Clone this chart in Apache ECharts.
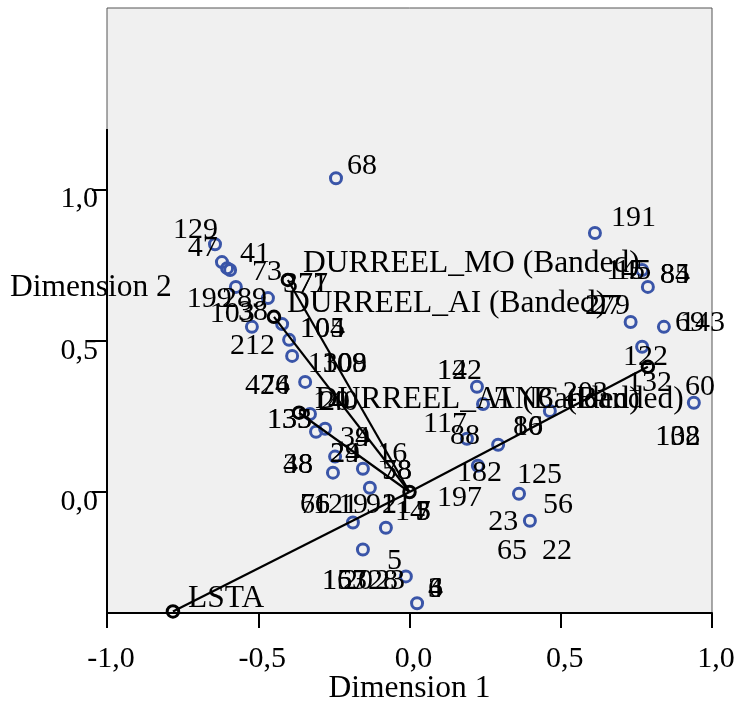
<!DOCTYPE html>
<html><head><meta charset="utf-8">
<script src="https://cdn.jsdelivr.net/npm/echarts@6/dist/echarts.min.js"></script>
<style>html,body{margin:0;padding:0;background:#fff}#c{width:740px;height:709px}</style>
</head><body><div id="c"></div>
<script>
const xRange = [-1, 1];
const yRange = [-0.4, 1.6];
const xTickStep = 0.5;
const yTickValues = [0, 0.5, 1];
const yAxisLineSpan = [-0.4, 1.2];
const xAxisTitle = 'Dimension 1';
const yAxisTitle = 'Dimension 2';

// object scores (blue open circles)
const objectPoints = [
  [-0.243,1.037],[0.613,0.856],[-0.643,0.819],[-0.620,0.760],[-0.603,0.740],[-0.593,0.734],
  [-0.574,0.678],[-0.521,0.546],[-0.468,0.641],[-0.421,0.555],[-0.398,0.503],[-0.388,0.450],
  [-0.345,0.364],[-0.329,0.258],[-0.309,0.199],[-0.279,0.209],[-0.246,0.117],[-0.253,0.064],
  [-0.154,0.077],[-0.131,0.014],[-0.187,-0.101],[-0.078,-0.118],[-0.154,-0.190],[-0.012,-0.279],
  [0.025,-0.368],[0.223,0.348],[0.243,0.291],[0.190,0.176],[0.226,0.087],[0.293,0.156],
  [0.362,-0.006],[0.398,-0.095],[0.464,0.268],[0.940,0.295],[0.769,0.734],[0.788,0.678],
  [0.731,0.562],[0.841,0.546],[0.769,0.480]
];

// object labels: [x, y, text]
const objectLabels = [
  [-0.207,1.077,'68'],[0.666,0.905,'191'],[-0.782,0.866,'129'],[-0.733,0.807,'47'],
  [-0.560,0.787,'41'],[-0.521,0.727,'73'],[-0.418,0.688,'377'],[-0.369,0.688,'71'],
  [-0.736,0.638,'199'],[-0.620,0.638,'289'],[-0.660,0.589,'103'],[-0.567,0.595,'38'],
  [-0.593,0.483,'212'],[-0.362,0.539,'105'],[-0.362,0.539,'104'],[-0.336,0.424,'130'],
  [-0.289,0.424,'109'],[-0.289,0.424,'108'],[-0.544,0.351,'474'],[-0.494,0.351,'26'],
  [-0.319,0.298,'140'],[-0.296,0.298,'20'],[-0.471,0.239,'135'],[-0.471,0.239,'133'],
  [-0.230,0.179,'39'],[-0.180,0.179,'4'],[-0.263,0.124,'24'],[-0.263,0.124,'29'],
  [-0.107,0.124,'16'],[-0.091,0.068,'58'],[-0.091,0.068,'78'],[-0.418,0.090,'38'],
  [-0.418,0.090,'48'],[-0.362,-0.045,'66'],[-0.362,-0.045,'76'],[-0.319,-0.045,'121'],
  [-0.236,-0.045,'19'],[-0.144,-0.045,'91'],[-0.091,-0.045,'21'],[-0.048,-0.065,'14'],
  [0.021,-0.068,'3'],[0.021,-0.068,'5'],[0.021,-0.068,'7'],[0.091,-0.019,'197'],
  [0.045,0.226,'117'],[0.134,0.186,'88'],[0.157,0.063,'182'],[0.355,0.057,'125'],
  [0.441,-0.042,'56'],[0.260,-0.101,'23'],[0.289,-0.197,'65'],[0.438,-0.197,'22'],
  [0.342,0.213,'86'],[0.342,0.213,'10'],[0.812,0.183,'138'],[0.812,0.183,'102'],
  [0.911,0.348,'60'],[0.719,0.361,'132'],[0.706,0.447,'122'],[0.878,0.559,'69'],
  [0.894,0.559,'143'],[0.580,0.615,'279'],[0.603,0.615,'27'],[0.650,0.731,'145'],
  [0.679,0.731,'15'],[0.828,0.717,'85'],[0.828,0.717,'84'],[0.091,0.400,'142'],
  [0.091,0.400,'12'],[0.507,0.328,'203'],[-0.074,-0.230,'5'],[-0.289,-0.293,'157'],
  [-0.289,-0.293,'163'],[-0.220,-0.293,'20'],[-0.137,-0.293,'28'],[-0.114,-0.293,'23'],
  [0.061,-0.322,'3'],[0.061,-0.322,'6'],[0.061,-0.322,'4']
];

// variable loadings (black circles), vectors drawn from origin
const variablePoints = [[-0.402,0.701],[-0.448,0.579],[-0.365,0.262],[0.788,0.414],[-0.782,-0.395]];
const originPoint = [0, 0];
const variableLabels = [
  [-0.352,0.754,'DURREEL_MO (Banded)'],[-0.405,0.622,'DURREEL_AI (Banded)'],
  [-0.312,0.305,'DURREEL_AT (Banded)'],[0.273,0.305,'ANC (Banded)'],[-0.732,-0.352,'LSTA']
];

const FONT = "'Liberation Serif','Times New Roman',serif";
const fmt = v => v.toFixed(1).replace('.', ',');
const nObj = objectLabels.length;

const chart = echarts.init(document.getElementById('c'), null, {renderer:'canvas'});
chart.setOption({
  animation: false,
  backgroundColor: '#ffffff',
  textStyle: { color: '#000' },
  grid: { left: 107, right: 28, top: 8, bottom: 96, show: true, containLabel: false,
          outerBoundsMode: 'none',
          backgroundColor: '#F0F0F0', borderColor: '#555', borderWidth: 1 },
  xAxis: {
    type: 'value', min: xRange[0], max: xRange[1], interval: xTickStep,
    name: xAxisTitle, nameLocation: 'middle', nameGap: 60, nameMoveOverlap: false,
    nameTextStyle: { fontFamily: FONT, fontSize: 31.5, color: '#000' },
    axisLine: { show: true, onZero: false, lineStyle: { color: '#000', width: 2 } },
    axisTick: { show: true, length: 15, lineStyle: { color: '#000', width: 2 } },
    axisLabel: { fontFamily: FONT, fontSize: 30, color: '#000', margin: 31, formatter: fmt, padding: [0,0,0,8] },
    splitLine: { show: false }
  },
  yAxis: {
    type: 'value', min: yRange[0], max: yRange[1],
    axisLine: { show: false, onZero: false },
    axisTick: { show: true, length: 15, customValues: yTickValues, lineStyle: { color: '#000', width: 2 } },
    axisLabel: { fontFamily: FONT, fontSize: 30, color: '#000', margin: 9, customValues: yTickValues,
                 formatter: fmt, verticalAlign: 'top', lineHeight: 20 },
    splitLine: { show: false }
  },
  graphic: [{
    type: 'text', left: 10, top: 272,
    style: { text: yAxisTitle, font: '31.5px ' + FONT, fill: '#000' }
  }],
  series: [
    {
      type: 'scatter', z: 2, data: objectPoints, symbol: 'circle', symbolSize: 11,
      itemStyle: { color: 'rgba(0,0,0,0)', borderColor: '#3A55A8', borderWidth: 3, opacity: 1 },
      emphasis: { disabled: true }
    },
    {
      type: 'lines', coordinateSystem: 'cartesian2d', z: 3,
      data: variablePoints.map(p => ({ coords: [originPoint, p] })),
      lineStyle: { color: '#000', width: 2.2, opacity: 1 }
    },
    {
      type: 'scatter', z: 4, data: variablePoints.concat([originPoint]), symbol: 'circle', symbolSize: 11.5,
      itemStyle: { color: 'rgba(0,0,0,0)', borderColor: '#000', borderWidth: 3, opacity: 1 },
      emphasis: { disabled: true }
    },
    {
      type: 'lines', coordinateSystem: 'cartesian2d', z: 5, clip: false,
      data: [{ coords: [[xRange[0], yAxisLineSpan[0]], [xRange[0], yAxisLineSpan[1]]] }],
      lineStyle: { color: '#000', width: 2, opacity: 1 }
    },
    {
      type: 'scatter', z: 6, symbolSize: 0, clip: false,
      data: objectLabels.concat(variableLabels),
      itemStyle: { color: '#000', opacity: 1 },
      label: { show: true, position: 'right', distance: 0,
               formatter: p => (p.dataIndex >= nObj ? '{v|' : '{t|') + p.value[2] + '}',
               rich: { t: { fontFamily: FONT, fontSize: 30, color: '#000000' },
                       v: { fontFamily: FONT, fontSize: 31.5, color: '#000000' } },
               fontFamily: FONT, fontSize: 30, color: '#000000', textBorderWidth: 0 },
      labelLayout: { hideOverlap: false },
      emphasis: { disabled: true }
    }
  ]
});
</script></body></html>
